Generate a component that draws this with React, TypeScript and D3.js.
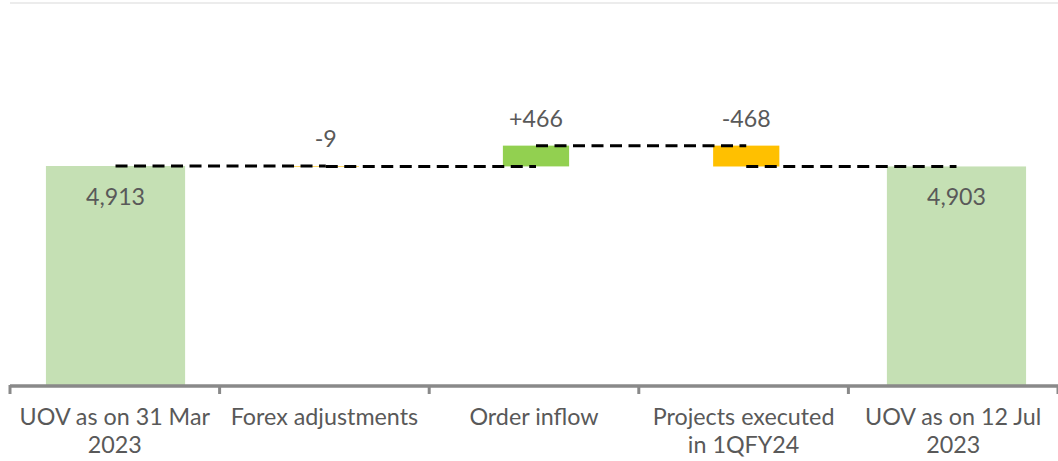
import React from "react";
import * as d3 from "d3";

const categories: string[][] = [
  ["UOV as on 31 Mar", "2023"],
  ["Forex adjustments"],
  ["Order inflow"],
  ["Projects executed", "in 1QFY24"],
  ["UOV as on 12 Jul", "2023"],
];
const values: number[] = [4913, -9, 466, -468, 4903];
const kinds: string[] = ["total", "delta", "delta", "delta", "total"];
const valueLabels: string[] = ["4,913", "-9", "+466", "-468", "4,903"];

const W = 1058;
const H = 461;
const axisY = 385;

export default function App() {
  const keys = categories.map((_, i) => String(i));
  const xAxis = d3.scaleBand<string>().domain(keys).range([10, 1058]).padding(0);
  const xBar = d3.scaleBand<string>().domain(keys).range([10.4, 1061.6]).padding(0);
  const y = d3.scaleLinear().domain([0, 6000]).range([axisY, axisY - 6000 * (219 / 4913)]);

  let running = 0;
  const segs = values.map((v, i) => {
    let start: number, end: number;
    if (kinds[i] === "total") {
      start = 0;
      end = v;
      running = v;
    } else {
      start = running;
      end = running + v;
      running = end;
    }
    return { i, v, start, end, kind: kinds[i] };
  });

  const totalW = xBar.bandwidth() * 0.662;
  const deltaW = xBar.bandwidth() * 0.315;
  const color = (s: { kind: string; v: number }) =>
    s.kind === "total" ? "#C5E0B4" : s.v >= 0 ? "#92D050" : "#FFC000";

  const cx = (i: number) => (xBar(String(i)) as number) + xBar.bandwidth() / 2;
  const tickXs = keys.map((k) => xAxis(k) as number).concat([1058]);

  return (
    <svg width={W} height={H} style={{ position: "absolute", left: 0, top: 0, background: "#fff" }}
      fontFamily="Lato, 'Open Sans', sans-serif">
      <line x1={10} x2={1058} y1={3} y2={3} stroke="#d9d9d9" strokeWidth={1.2} />
      {segs.map((s) => {
        const w = s.kind === "total" ? totalW : deltaW;
        const top = y(Math.max(s.start, s.end));
        const bot = y(Math.min(s.start, s.end));
        return (
          <rect key={"b" + s.i} x={cx(s.i) - w / 2} y={top} width={w}
            height={Math.max(bot - top, 0.6)} fill={color(s)} />
        );
      })}
      {segs.slice(0, -1).map((s) => (
        <line key={"c" + s.i} x1={cx(s.i)} x2={cx(s.i + 1)} y1={y(s.end)} y2={y(s.end)}
          stroke="#000" strokeWidth={3} strokeDasharray="12,6.5" />
      ))}
      {segs.map((s) => {
        const top = y(Math.max(s.start, s.end));
        const ty = s.kind === "total" ? top + 39 : top - 19;
        return (
          <text key={"v" + s.i} x={cx(s.i)} y={ty} textAnchor="middle" fontSize={23.2} fill="#595959">
            {valueLabels[s.i]}
          </text>
        );
      })}
      <line x1={10} x2={1058} y1={axisY + 1} y2={axisY + 1} stroke="#898989" strokeWidth={3.5} />
      {tickXs.map((tx, i) => (
        <line key={"t" + i} x1={tx} x2={tx} y1={axisY} y2={axisY + 9} stroke="#898989" strokeWidth={3} />
      ))}
      {categories.map((lines, i) => (
        <text key={"l" + i} x={(xAxis(String(i)) as number) + xAxis.bandwidth() / 2} y={425}
          textAnchor="middle" fontSize={23.3} fill="#595959">
          {lines.map((ln, j) => (
            <tspan key={j} x={(xAxis(String(i)) as number) + xAxis.bandwidth() / 2} dy={j === 0 ? 0 : 28}>
              {ln}
            </tspan>
          ))}
        </text>
      ))}
    </svg>
  );
}
